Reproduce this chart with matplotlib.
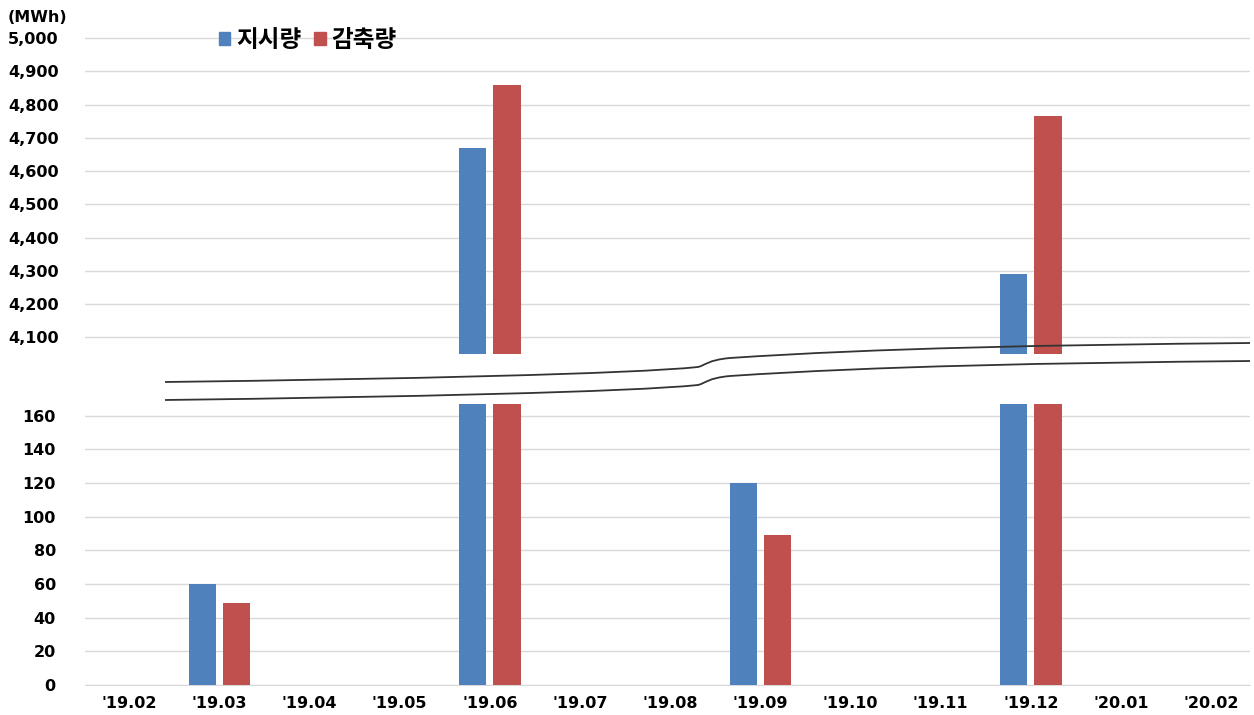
import numpy as np
import matplotlib.pyplot as plt
from matplotlib.path import Path
from matplotlib.patches import PathPatch, Patch

plt.rcParams['font.family'] = ['DejaVu Sans', 'Noto Sans CJK KR']

months = ["'19.02", "'19.03", "'19.04", "'19.05", "'19.06", "'19.07", "'19.08",
          "'19.09", "'19.10", "'19.11", "'19.12", "'20.01", "'20.02"]
ordered = [0, 60, 0, 0, 4670, 0, 0, 120, 0, 0, 4290, 0, 0]   # 지시량
reduced = [0, 49, 0, 0, 4860, 0, 0, 89, 0, 0, 4765, 0, 0]    # 감축량

blue = '#4F81BD'
red = '#C0504D'
grid_c = '#d9d9d9'

W, H = 1254, 715
fig = plt.figure(figsize=(W / 100, H / 100), dpi=100)

def fx(px):
    return px / W

def fy(py):
    return 1 - py / H

left, right = 85, 1250
ax_top = fig.add_axes([fx(left), fy(354), fx(right) - fx(left), fy(37) - fy(354)])
ax_bot = fig.add_axes([fx(left), fy(685), fx(right) - fx(left), fy(404) - fy(685)])

x = np.arange(len(months))
bw = 0.30
off = 0.19
tick_fs = 11.5

for ax in (ax_top, ax_bot):
    ax.bar(x - off, ordered, bw, color=blue, label='지시량', zorder=3)
    ax.bar(x + off, reduced, bw, color=red, label='감축량', zorder=3)
    ax.set_xlim(-0.49, 12.43)
    for s in ax.spines.values():
        s.set_visible(False)
    ax.grid(axis='y', color=grid_c, linewidth=1, zorder=0)
    ax.tick_params(axis='both', length=0)

ax_top.set_ylim(4050, 5003)
ax_top.set_yticks(np.arange(4100, 5001, 100))
ax_top.set_yticklabels([f'{v:,}' for v in range(4100, 5001, 100)],
                       fontsize=tick_fs, fontweight='bold')
ax_top.tick_params(axis='y', pad=19)
ax_top.set_xticks([])

ax_bot.set_ylim(0, 167)
ax_bot.set_yticks(np.arange(0, 161, 20))
ax_bot.set_yticklabels([str(v) for v in range(0, 161, 20)],
                       fontsize=tick_fs, fontweight='bold')
ax_bot.tick_params(axis='y', pad=21)
ax_bot.spines['bottom'].set_visible(True)
ax_bot.spines['bottom'].set_color(grid_c)
ax_bot.set_xticks(x)
ax_bot.set_xticklabels(months, fontsize=tick_fs, fontweight='bold')
ax_bot.tick_params(axis='x', pad=8)

fig.text(fx(8), fy(17), '(MWh)', fontsize=tick_fs, fontweight='bold',
         va='center', ha='left')

handles = [Patch(color=blue), Patch(color=red)]
fig.legend(handles, ['지시량', '감축량'], loc='center left',
           bbox_to_anchor=(fx(198), fy(40)), ncol=2, frameon=False,
           prop={'family': ['Noto Sans CJK KR'], 'weight': 'bold', 'size': 17},
           handlelength=0.47, handleheight=0.47,
           handletextpad=0.25, columnspacing=0.55)

# axis break lines
def break_line(dy):
    pts = [(165, 382), (400, 379), (630, 374), (698, 367),
           (706, 365), (708, 360), (730, 358),
           (880, 348), (1050, 345), (1250, 343)]
    codes = [Path.MOVETO, Path.CURVE4, Path.CURVE4, Path.CURVE4,
             Path.CURVE4, Path.CURVE4, Path.CURVE4,
             Path.CURVE4, Path.CURVE4, Path.CURVE4]
    verts = [(fx(px), fy(py + dy)) for px, py in pts]
    return PathPatch(Path(verts, codes), facecolor='none', edgecolor='#333333',
                     linewidth=1.3, transform=fig.transFigure)

fig.add_artist(break_line(0))
fig.add_artist(break_line(18))

fig.savefig('out.png', dpi=100)
